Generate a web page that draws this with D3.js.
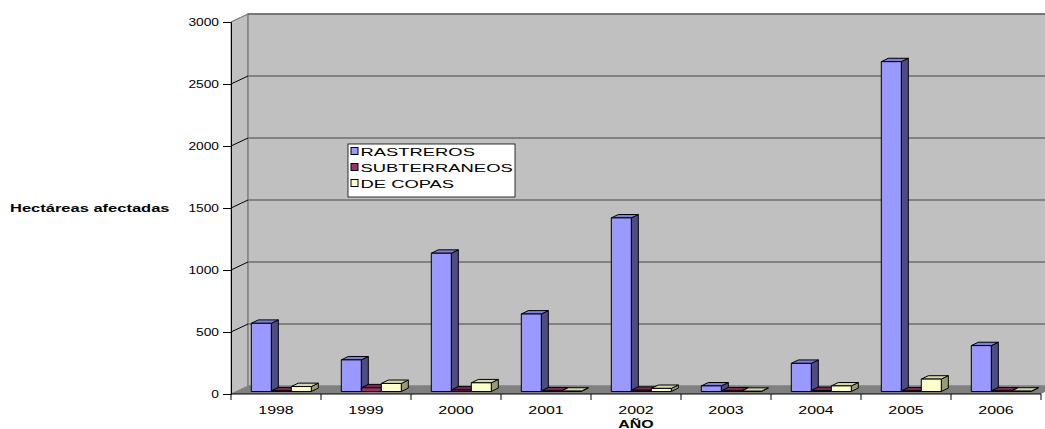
<!DOCTYPE html>
<html>
<head>
<meta charset="utf-8">
<script src="https://cdn.jsdelivr.net/npm/d3@7"></script>
<style>
  html, body { margin: 0; padding: 0; background: #fff; }
  svg { display: block; font-family: "Liberation Sans", Arial, sans-serif; }
</style>
</head>
<body>
<svg id="chart" width="1045" height="429"></svg>
<script>
// Hectares affected per year, by pest type
const years = ["1998", "1999", "2000", "2001", "2002", "2003", "2004", "2005", "2006"];
const seriesNames = ["RASTREROS", "SUBTERRANEOS", "DE COPAS"];
const rastreros    = [550, 255, 1115, 625, 1400, 45, 227, 2660, 370];
const subterraneos = [5, 30, 12, 5, 10, 5, 8, 5, 5];
const deCopas      = [40, 65, 70, 3, 25, 2, 45, 100, 3];
const yTicks = [0, 500, 1000, 1500, 2000, 2500, 3000];

const seriesValues = [rastreros, subterraneos, deCopas];

// face colours: front, top, side
const palette = [
  { front: "#9999ff", top: "#7f7fd6", side: "#4d4d80" },
  { front: "#993366", top: "#7a2952", side: "#4d1a33" },
  { front: "#ffffcc", top: "#d6d6aa", side: "#9a9a7a" }
];

const svg = d3.select("#chart");

// plot frame (front plane) and wall depth
const plotLeft = 231, plotRight = 1041, plotTop = 22, plotBottom = 394;
const depthX = 17, depthY = -8;
// bar placement within the depth
const barOffX = 5.3, barOffY = -2.5, barDepX = 7, barDepY = -3.4;

const x = d3.scaleBand().domain(years).range([plotLeft, plotRight]).padding(0);
const xs = d3.scaleBand().domain(d3.range(seriesNames.length)).range([15, 75]).padding(0);
const y = d3.scaleLinear().domain([0, 3000]).range([plotBottom, plotTop]);

const TEXT_STRETCH = 1.45;

// ---- walls ----
const g = svg.append("g");
// left side wall
g.append("polygon")
  .attr("points", [[plotLeft, y(3000)], [plotLeft + depthX, y(3000) + depthY], [plotLeft + depthX, y(0) + depthY], [plotLeft, y(0)]].join(" "))
  .attr("fill", "#c0c0c0").attr("stroke", "#808080").attr("stroke-width", 1);
// back wall
g.append("rect")
  .attr("x", plotLeft + depthX).attr("y", y(3000) + depthY)
  .attr("width", plotRight - plotLeft).attr("height", y(0) - y(3000))
  .attr("fill", "#c0c0c0").attr("stroke", "#808080").attr("stroke-width", 1.5);
// gridlines on back wall
g.selectAll("line.grid").data(yTicks.filter(d => d > 0)).join("line")
  .attr("class", "grid")
  .attr("x1", plotLeft + depthX).attr("x2", plotRight + depthX)
  .attr("y1", d => y(d) + depthY).attr("y2", d => y(d) + depthY)
  .attr("stroke", "#6e6e6e").attr("stroke-width", 1.6);
// gridline continuation across the side wall
g.selectAll("line.side").data(yTicks.filter(d => d > 0)).join("line")
  .attr("class", "side")
  .attr("x1", plotLeft).attr("x2", plotLeft + depthX)
  .attr("y1", d => y(d)).attr("y2", d => y(d) + depthY)
  .attr("stroke", d => d === 3000 ? "#808080" : "#000").attr("stroke-width", 1);
// floor
g.append("polygon")
  .attr("points", [[plotLeft, y(0)], [plotLeft + depthX, y(0) + depthY], [plotRight + depthX, y(0) + depthY], [plotRight, y(0)]].join(" "))
  .attr("fill", "#808080");

// ---- bars ----
const bars = [];
years.forEach((yr, i) => {
  seriesValues.forEach((vals, j) => {
    bars.push({ year: yr, s: j, v: vals[i] });
  });
});

const barG = svg.append("g");
bars.forEach(b => {
  const x0 = x(b.year) + xs(b.s) + barOffX;
  const w = xs.bandwidth();
  const yb = y(0) + barOffY;
  const yt = y(b.v) + barOffY;
  const c = palette[b.s];
  const bg = barG.append("g").attr("stroke", "#000").attr("stroke-width", 1).attr("stroke-linejoin", "round");
  // side face
  bg.append("polygon")
    .attr("points", [[x0 + w, yt], [x0 + w + barDepX, yt + barDepY], [x0 + w + barDepX, yb + barDepY], [x0 + w, yb]].join(" "))
    .attr("fill", c.side);
  // top face
  bg.append("polygon")
    .attr("points", [[x0, yt], [x0 + barDepX, yt + barDepY], [x0 + w + barDepX, yt + barDepY], [x0 + w, yt]].join(" "))
    .attr("fill", c.top);
  // front face
  bg.append("rect")
    .attr("x", x0).attr("y", yt).attr("width", w).attr("height", Math.max(0, yb - yt))
    .attr("fill", c.front);
});

// ---- axes ----
const yAxis = svg.append("g")
  .attr("transform", `translate(${plotLeft},0)`)
  .call(d3.axisLeft(y).tickValues(yTicks).tickSize(8).tickPadding(4).tickFormat(d3.format("d")));
yAxis.select(".domain").attr("stroke", "#000");
yAxis.selectAll(".tick line").attr("stroke", "#000");
yAxis.selectAll(".tick text")
  .attr("font-size", 11).attr("fill", "#000")
  .attr("font-family", "Liberation Sans, Arial, sans-serif")
  .attr("transform", function () {
    const xPos = +d3.select(this).attr("x");
    return `translate(${xPos},0) scale(1.25,1) translate(${-xPos},0)`;
  });

// bottom axis: labels centered in each category, ticks at category boundaries
const xAxis = svg.append("g")
  .attr("transform", `translate(0,${plotBottom})`)
  .call(d3.axisBottom(x).tickSize(0).tickPadding(12));
xAxis.select(".domain").attr("stroke", "#000").attr("d", `M${plotLeft},0H${plotRight}`);
xAxis.selectAll(".tick text")
  .attr("font-size", 11).attr("fill", "#000")
  .attr("font-family", "Liberation Sans, Arial, sans-serif")
  .attr("transform", `scale(${TEXT_STRETCH},1)`);
const boundaries = years.map(d => x(d)).concat([plotRight]);
xAxis.selectAll("line.bound").data(boundaries).join("line")
  .attr("class", "bound")
  .attr("x1", d => d).attr("x2", d => d)
  .attr("y1", 0).attr("y2", 6)
  .attr("stroke", "#000");

// axis titles
svg.append("text")
  .attr("transform", `translate(${(plotLeft + plotRight) / 2},428) scale(${TEXT_STRETCH},1)`)
  .attr("text-anchor", "middle")
  .attr("font-size", 11).attr("font-weight", "bold")
  .text("AÑO");

svg.append("text")
  .attr("transform", `translate(10,212) scale(1.5,1)`)
  .attr("text-anchor", "start")
  .attr("font-size", 11).attr("font-weight", "bold")
  .text("Hectáreas afectadas");

// ---- legend ----
const legend = svg.append("g").attr("transform", "translate(348,144)");
legend.append("rect")
  .attr("width", 167).attr("height", 53)
  .attr("fill", "#fff").attr("stroke", "#000").attr("stroke-width", 0.8);
seriesNames.forEach((name, k) => {
  const row = legend.append("g").attr("transform", `translate(3,${7.5 + k * 16})`);
  row.append("rect")
    .attr("x", 0).attr("y", -4).attr("width", 7).attr("height", 7)
    .attr("fill", palette[k].front).attr("stroke", "#000").attr("stroke-width", 1);
  row.append("text")
    .attr("transform", `translate(9.5,4) scale(1.6,1)`)
    .attr("font-size", 11.5)
    .text(name);
});
</script>
</body>
</html>
